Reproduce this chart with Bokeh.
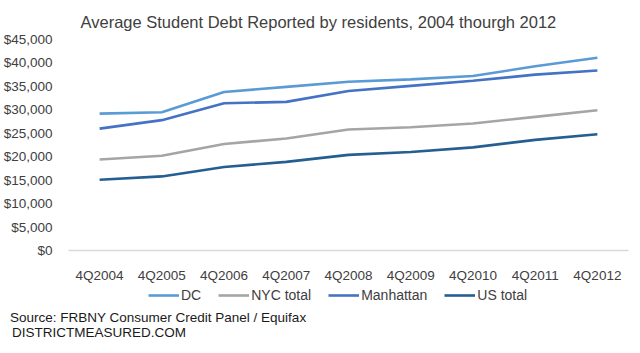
from bokeh.plotting import figure
from bokeh.layouts import column
from bokeh.models import (FactorRange, NumeralTickFormatter, FixedTicker, Legend,
                          LegendItem, ColumnDataSource, Range1d, Div)
from bokeh.embed import file_html
from bokeh.resources import INLINE

categories = ["4Q2004", "4Q2005", "4Q2006", "4Q2007", "4Q2008",
              "4Q2009", "4Q2010", "4Q2011", "4Q2012"]
dc = [29200, 29500, 33800, 34900, 36000, 36500, 37200, 39300, 41100]
nyc_total = [19400, 20200, 22700, 23900, 25800, 26300, 27100, 28500, 29900]
manhattan = [26000, 27800, 31400, 31700, 34000, 35100, 36200, 37500, 38400]
us_total = [15100, 15800, 17800, 18900, 20400, 21000, 22000, 23600, 24800]
y_ticks = [0, 5000, 10000, 15000, 20000, 25000, 30000, 35000, 40000, 45000]

series = [("DC", dc, "#5B9BD5"),
          ("NYC total", nyc_total, "#A5A5A5"),
          ("Manhattan", manhattan, "#4472C4"),
          ("US total", us_total, "#255E91")]
source_lines = ["Source: FRBNY Consumer Credit Panel / Equifax",
                "DISTRICTMEASURED.COM"]

FONT = "Liberation Sans"
TXT = "#404040"

p = figure(width=640, height=285, x_range=FactorRange(*categories),
           y_range=(0, 45000), output_backend="svg", toolbar_location=None,
           min_border_left=65, min_border_right=12, min_border_top=39,
           min_border_bottom=34)
p.outline_line_color = None
p.grid.grid_line_color = None
p.background_fill_color = "white"
p.border_fill_color = "white"

p.title.text = "Average Student Debt Reported by residents, 2004 thourgh 2012"
p.title.align = "left"
p.title.offset = 12
p.title.text_font = FONT
p.title.text_font_size = "16.5px"
p.title.text_font_style = "normal"
p.title.text_color = TXT
p.title.standoff = 17
p.title.text_line_height = 1.0

p.yaxis.ticker = FixedTicker(ticks=y_ticks)
p.yaxis.formatter = NumeralTickFormatter(format="$0,0")
p.yaxis.axis_line_color = None
p.yaxis.major_tick_line_color = None
p.yaxis.minor_tick_line_color = None
p.yaxis.major_label_standoff = 10
p.xaxis.axis_line_color = "#D9D9D9"
p.xaxis.axis_line_width = 1.5
p.xaxis.major_tick_line_color = None
p.xaxis.minor_tick_line_color = None
p.xaxis.major_label_standoff = 11
for ax in (p.xaxis, p.yaxis):
    ax.major_label_text_font = FONT
    ax.major_label_text_font_size = "13.5px"
    ax.major_label_text_color = TXT

for name, vals, color in series:
    src = ColumnDataSource(dict(x=categories, y=vals))
    p.line("x", "y", source=src, line_color=color, line_width=2.6)

# legend strip: same series drawn into an off-view range, only the legend shows
p2 = figure(width=640, height=22, x_range=FactorRange(*categories),
            y_range=Range1d(-2, -1), output_backend="svg", toolbar_location=None,
            x_axis_type=None, y_axis_type=None, min_border_left=65,
            min_border_right=12, min_border_top=0, min_border_bottom=0)
p2.outline_line_color = None
p2.grid.grid_line_color = None
p2.background_fill_color = "white"
p2.border_fill_color = "white"

items = []
for name, vals, color in series:
    src = ColumnDataSource(dict(x=categories, y=vals))
    r = p2.line("x", "y", source=src, line_color=color, line_width=2.6)
    items.append(LegendItem(label=name, renderers=[r]))

legend = Legend(items=items, orientation="horizontal", location=(80, 2),
                glyph_width=31, label_standoff=2, spacing=17,
                label_text_font=FONT, label_text_font_size="14px",
                label_text_color=TXT, border_line_color=None,
                background_fill_alpha=0, padding=0, margin=0)
p2.add_layout(legend)

note = Div(width=640, height=46,
           text=("<div style=\"font-family:'Liberation Sans';font-size:13.5px;"
                 "line-height:15px;color:#1a1a1a;padding:3px 0 0 10px;"
                 "white-space:nowrap\">" + source_lines[0] +
                 "<br><span style=\"padding-left:2px\">" + source_lines[1] +
                 "</span></div>"),
           styles={"margin": "0", "padding": "0"})

layout = column(p, p2, note, spacing=0)
open("out.html", "w").write(file_html(layout, INLINE))
